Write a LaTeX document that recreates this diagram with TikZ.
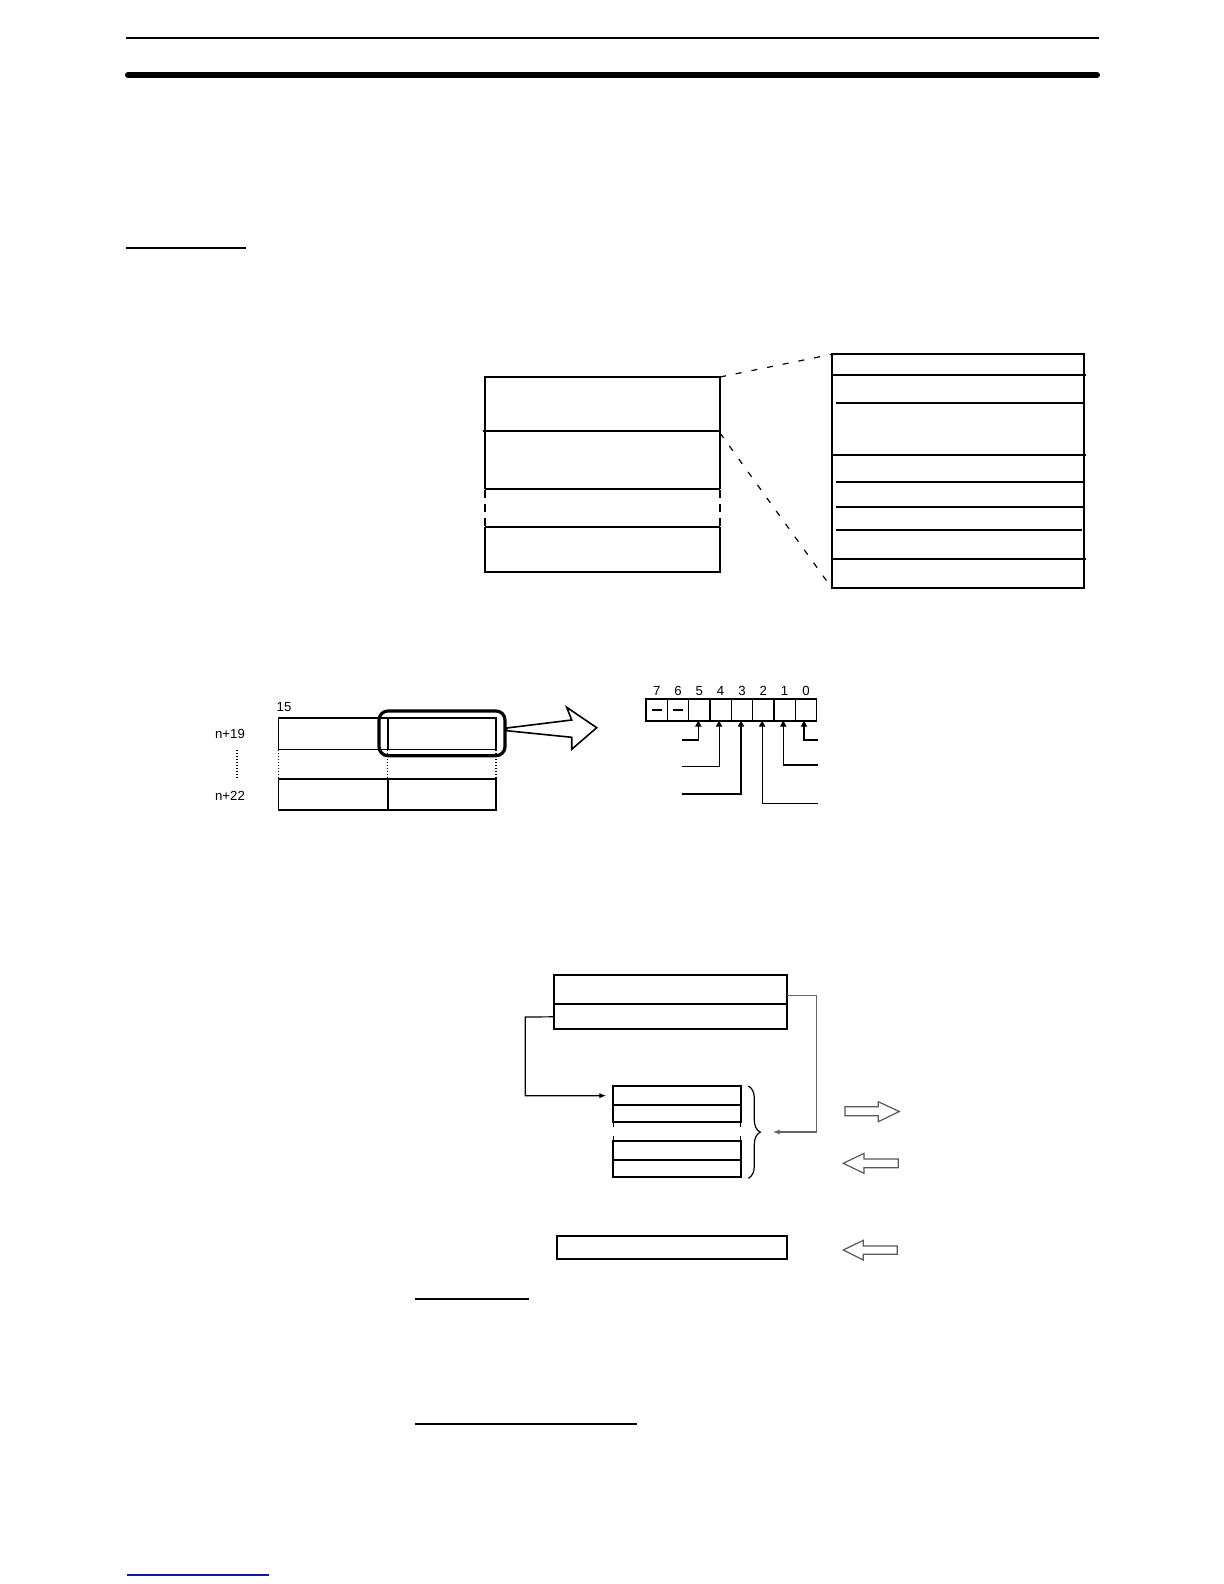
\documentclass[tikz,border=0pt]{standalone}
\usepackage{fontspec}
\setmainfont{Liberation Sans}
\usetikzlibrary{fit,arrows.meta,decorations.pathreplacing,calc}
\begin{document}
\begin{tikzpicture}[x=0.5pt,y=-0.5pt,
  bx/.style={draw, line width=0.9pt, inner sep=0pt, outer sep=0pt},
  plain/.style={inner sep=0pt, outer sep=0pt},
  sep/.style={line width=0.9pt},
  thinln/.style={line width=0.6pt},
  dashside/.style={line width=0.9pt, dash pattern=on 4pt off 3pt},
  dotside/.style={line width=0.6pt, dash pattern=on 0.6pt off 0.9pt},
  conn/.style={line width=0.6pt, dash pattern=on 3pt off 5pt},
  lbl/.style={font=\fontsize{6.6}{8}\selectfont, inner sep=0pt},
  uptip/.style={-{Triangle[length=3pt,width=3.2pt]}, line width=0.55pt},
  smalltip/.style={-{Latex[length=3.5pt,width=2.6pt]}, line width=0.6pt},
  hollow/.style={draw=black!65, line width=0.6pt, fill=white, line join=miter},
]
\fill[white] (0,0) rectangle (1224,1584);
\useasboundingbox (0,0) rectangle (1224,1584);

% page rules
\draw[line width=1pt] (126,38) -- (1099,38);
\draw[line width=3pt, line cap=round] (128,75) -- (1097,75);
\draw[line width=1pt] (126,248) -- (246,248);

% ---------- upper diagram ----------
\coordinate (Ltr) at (720,377);
\coordinate (Lmr) at (720,433);
\draw[sep] (485,489.3) -- (485,377) -- (720,377) -- (720,489.3);
\draw[sep] (485,527.3) -- (485,572) -- (720,572) -- (720,527.3);
\draw[sep] (483,431) -- (720,431);
\draw[sep] (485,489.3) -- (720,489.3);
\draw[sep] (485,527.3) -- (720,527.3);
\draw[dashside] (485,490) -- (485,527);
\draw[dashside] (720,490) -- (720,527);

\node[bx, fit={(832,354.3) (1084,588.3)}] (R) {};
\draw[sep] (832,375) -- (1085.5,375);
\draw[sep] (836,403) -- (1084,403);
\draw[sep] (832,455.3) -- (1085.5,455.3);
\draw[sep] (836,482.3) -- (1084,482.3);
\draw[sep] (836,507.3) -- (1084,507.3);
\draw[sep] (836,530.3) -- (1082,530.3);
\draw[sep] (832,559.3) -- (1085.5,559.3);

\draw[conn] (Ltr) -- (R.north west);
\draw[conn] (Lmr) -- (R.south west);

% ---------- bit diagram ----------
\node[lbl] (n15) at (284,707) {15};
\node[lbl] (n19) at (230,734) {n+19};
\node[lbl] (n22) at (230,796) {n+22};
\draw[dotside] (237,750) -- (237,779);

\node[bx, fit={(278.5,718.3) (387.7,749.5)}] (c11) {};
\node[bx, fit={(387.7,718.3) (496,749.5)}] (c12) {};
\node[bx, fit={(278.5,779.3) (387.7,810)}] (c31) {};
\node[bx, fit={(387.7,779.3) (496,810)}] (c32) {};
\draw[dotside] (278.5,749.5) -- (278.5,779.3);
\draw[dotside] (387.7,749.5) -- (387.7,779.3);
\draw[dotside] (496,749.5) -- (496,779.3);

\node[draw, line width=1.6pt, rounded corners=4.5pt, inner sep=0pt, fit={(379,711) (505,755.7)}] (hl) {};

\draw[line width=0.8pt, line join=miter, fill=white]
  (506.7,728) -- (571.7,720) -- (566.7,707.3) -- (596.7,727.7)
  -- (571.7,749.3) -- (571.7,737.3) -- (506.7,730.7) -- cycle;

% bit register
\foreach \b [count=\i from 0] in {7,6,5,4,3,2,1,0} {
  \pgfmathsetmacro{\xl}{646+21.33*\i}
  \pgfmathsetmacro{\xr}{646+21.33*(\i+1)}
  \node[bx, line width=0.8pt, fit={(\xl,698.7) (\xr,720.7)}] (bit\b) {};
  \node[lbl] (lab\b) at ($(bit\b.north)+(0,-7.4)$) {\b};
}
\draw[line width=1pt] ([xshift=-2.5pt]bit7.center) -- ([xshift=2.5pt]bit7.center);
\draw[line width=1pt] ([xshift=-2.5pt]bit6.center) -- ([xshift=2.5pt]bit6.center);

\draw[uptip] (681.7,740) -| ([xshift=-0.5pt]bit5.south);
\draw[uptip] (681.7,766.7) -| ([xshift=-0.8pt]bit4.south);
\draw[uptip] (681.7,794) -| ([xshift=-0.5pt]bit3.south);
\draw[uptip] (818,803.3) -| ([xshift=-0.6pt]bit2.south);
\draw[uptip] (818,765) -| ([xshift=-0.7pt]bit1.south);
\draw[uptip] (818,740) -| ([xshift=-1pt]bit0.south);

% ---------- lower diagram ----------
\node[bx, fit={(554.3,975.3) (787.3,1004.3)}] (T1) {};
\node[bx, fit={(554.3,1004.3) (787.3,1029.3)}] (T2) {};

\node[bx, fit={(613.3,1086) (740.7,1105.3)}] (S1a) {};
\node[bx, fit={(613.3,1105.3) (740.7,1122)}] (S1b) {};
\node[bx, fit={(613.3,1141) (740.7,1160)}] (S2a) {};
\node[bx, fit={(613.3,1160) (740.7,1177.3)}] (S2b) {};
\draw[line width=0.6pt, dash pattern=on 2.5pt off 4.5pt] (S1b.south west) -- (S2a.north west);
\draw[line width=0.6pt, dash pattern=on 2.5pt off 4.5pt] (S1b.south east) -- (S2a.north east);

\draw[line width=0.6pt, decorate, decoration={brace, amplitude=6pt}]
  (748.3,1086) -- (748.3,1178.3);
\coordinate (brtip) at (761.7,1132);

\draw[smalltip] (T2.west) -- (525.3,1017) |- ([xshift=-3.5pt]S1a.west);
\draw[smalltip, draw=black!60] (T1.east |- 0,995.3) -- (816.7,995.3) |- ([xshift=5.5pt]brtip);

\node[bx, fit={(557.3,1236.3) (787.3,1259.3)}] (B) {};

\draw[hollow] (845,1106.7) -- (878.3,1106.7) -- (878.3,1101.7) -- (899.3,1111.5)
  -- (878.3,1121.7) -- (878.3,1115.7) -- (845,1115.7) -- cycle;
\draw[hollow] (898.3,1159) -- (864,1159) -- (864,1153.3) -- (843.3,1163.3)
  -- (864,1173.3) -- (864,1167.7) -- (898.3,1167.7) -- cycle;
\draw[hollow] (897.3,1246) -- (863.3,1246) -- (863.3,1240.3) -- (843.3,1250)
  -- (863.3,1260) -- (863.3,1254.3) -- (897.3,1254.3) -- cycle;

% lower rules
\draw[line width=1pt] (415,1298.7) -- (528.7,1298.7);
\draw[line width=1pt] (415,1424.3) -- (636.7,1424.3);
\draw[line width=0.8pt, draw={rgb,255:red,20;green,20;blue,170}] (126.7,1575) -- (269,1575);
\end{tikzpicture}
\end{document}
